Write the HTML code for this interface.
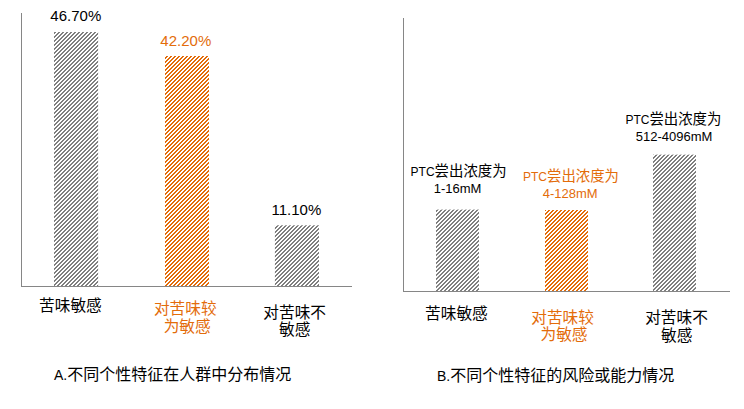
<!DOCTYPE html>
<html lang="zh"><head><meta charset="utf-8"><title>chart</title>
<style>html,body{margin:0;padding:0;background:#fff;font-family:"Liberation Sans",sans-serif}svg{display:block}</style>
</head><body>
<svg width="744" height="409" viewBox="0 0 744 409" role="img" aria-label="A.不同个性特征在人群中分布情况 / B.不同个性特征的风险或能力情况">
<defs>
<pattern id="hg" width="4" height="4" patternUnits="userSpaceOnUse"><g fill="#7f7f7f" shape-rendering="crispEdges"><rect x="2" y="0" width="2" height="1"/><rect x="1" y="1" width="2" height="1"/><rect x="0" y="2" width="2" height="1"/><rect x="3" y="3" width="1" height="1"/><rect x="0" y="3" width="1" height="1"/></g></pattern>
<pattern id="ho" width="4" height="4" patternUnits="userSpaceOnUse"><g fill="#e36c0a" shape-rendering="crispEdges"><rect x="2" y="0" width="2" height="1"/><rect x="1" y="1" width="2" height="1"/><rect x="0" y="2" width="2" height="1"/><rect x="3" y="3" width="1" height="1"/><rect x="0" y="3" width="1" height="1"/></g></pattern>
</defs>
<rect width="744" height="409" fill="#fff"/>
<rect x="54" y="32" width="44.12" height="254" fill="url(#hg)"/>
<rect x="165" y="56" width="44" height="230" fill="url(#ho)"/>
<rect x="274.9" y="225.3" width="44.1" height="60.7" fill="url(#hg)"/>
<rect x="436" y="209.6" width="43" height="81.4" fill="url(#hg)"/>
<rect x="545" y="210" width="43" height="81" fill="url(#ho)"/>
<rect x="653" y="154.65" width="43" height="136.35" fill="url(#hg)"/>
<g fill="#868686" shape-rendering="crispEdges"><rect x="21" y="13" width="1" height="274"/><rect x="21" y="286" width="331" height="1"/><rect x="403" y="18" width="1" height="274"/><rect x="403" y="291" width="327" height="1"/></g>
<g font-family="'Liberation Sans', 'Noto Sans CJK SC', sans-serif" fill="#000">
<g font-size="15" text-anchor="middle">
<text x="75.8" y="21">46.70%</text>
<text x="185.8" y="46" fill="#e36c0a">42.20%</text>
<text x="296.4" y="215">11.10%</text>
</g>
<g font-size="15.7" text-anchor="middle">
<text x="70.4" y="311">苦味敏感</text>
<text x="185.3" y="314.4" fill="#e36c0a">对苦味较</text>
<text x="187.2" y="331.5" fill="#e36c0a">为敏感</text>
<text x="294.7" y="318">对苦味不</text>
<text x="294.7" y="335">敏感</text>
<text x="456.4" y="319">苦味敏感</text>
<text x="562.6" y="322.5" fill="#e36c0a">对苦味较</text>
<text x="564" y="339.5" fill="#e36c0a">为敏感</text>
<text x="676.5" y="323.4">对苦味不</text>
<text x="676.7" y="340.5">敏感</text>
</g>
<text x="54" y="380" font-size="16"><tspan font-size="14">A.</tspan>不同个性特征在人群中分布情况</text>
<text x="437" y="380.8" font-size="16"><tspan font-size="14">B.</tspan>不同个性特征的风险或能力情况</text>
<g text-anchor="middle" font-size="14.4">
<text x="458.6" y="176.2"><tspan font-size="12">PTC</tspan>尝出浓度为</text>
<text x="457.6" y="193" font-size="13">1-16mM</text>
<text x="571" y="181.2" fill="#e36c0a"><tspan font-size="12">PTC</tspan>尝出浓度为</text>
<text x="570.2" y="198" font-size="13" fill="#e36c0a">4-128mM</text>
<text x="673.4" y="123.7"><tspan font-size="12">PTC</tspan>尝出浓度为</text>
<text x="674.1" y="141" font-size="13">512-4096mM</text>
</g>
</g>
</svg>
</body></html>
